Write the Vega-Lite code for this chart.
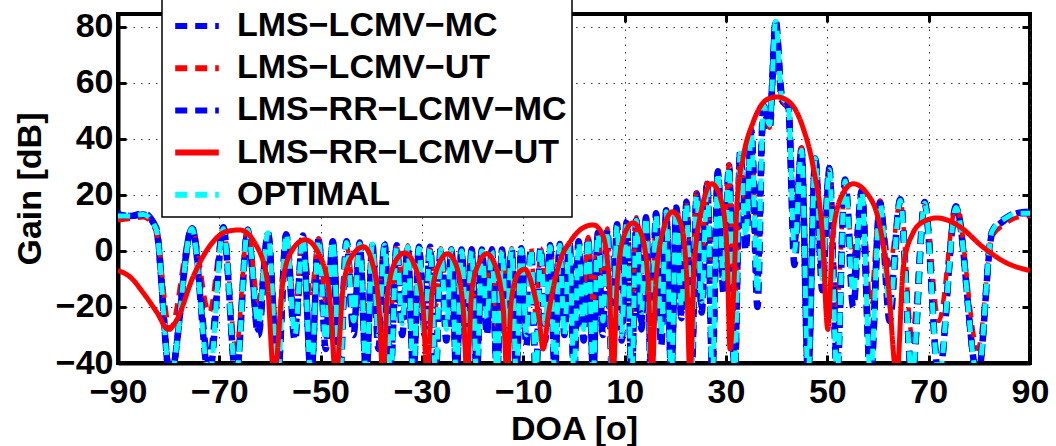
{
"$schema":"https://vega.github.io/schema/vega-lite/v6.json",
"width":912,"height":349,
"autosize":{"type":"none"},
"padding":{"left":118,"top":14,"right":26,"bottom":83},
"background":"white",
"view":{"stroke":"black","strokeWidth":4},
"config":{
"font":"Liberation Sans",
"axis":{"labelFont":"Liberation Sans","labelFontWeight":"bold","labelFontSize":34,"labelColor":"black","titleFont":"Liberation Sans","titleFontWeight":"bold","titleFontSize":34,"titleColor":"black","domainColor":"black","domainWidth":4,"tickColor":"black","tickWidth":3,"tickSize":-8,"gridColor":"#333333","gridDash":[1.5,6],"gridWidth":1,"gridOpacity":1},
"legend":{"orient":"none","legendX":44,"legendY":-18,"fillColor":"white","strokeColor":"black","strokeWidth":1.5,"padding":5,"labelFont":"Liberation Sans","labelFontWeight":"bold","labelFontSize":34,"labelColor":"black","labelOffset":15,"symbolOffset":5,"labelLimit":0,"symbolType":"stroke","symbolSize":1900,"symbolStrokeWidth":6,"rowPadding":0.2,"cornerRadius":0}
},
"datasets":{
"w":[
{"x":-90,"o":12.5,"a":13.5,"c":13,"b":11},
{"x":-87.5,"o":12.5,"a":12.5,"c":12.5,"b":11.5},
{"x":-85,"o":13,"a":13.5,"c":13,"b":12},
{"x":-82.5,"o":8,"a":8,"c":8.5,"b":7},
{"x":-79.7,"o":-45,"a":-45,"c":-45,"b":-28},
{"x":-75.4,"o":8,"a":8.5,"c":8,"b":8.5},
{"x":-72.0,"o":-45,"a":-45,"c":-40,"b":-22},
{"x":-69.2,"o":8,"a":8,"c":8.5,"b":8.5},
{"x":-66.7,"o":-45,"a":-45,"c":-45,"b":-35},
{"x":-64.4,"o":7.5,"a":7,"c":7.5,"b":8},
{"x":-62.3,"o":-26,"a":-30,"c":-28,"b":-18},
{"x":-60.4,"o":6.5,"a":6,"c":6.5,"b":6},
{"x":-58.5,"o":-45,"a":-45,"c":-45,"b":-30},
{"x":-56.8,"o":6,"a":6,"c":5.5,"b":6},
{"x":-55.1,"o":-30,"a":-32,"c":-28,"b":-20},
{"x":-53.5,"o":5,"a":5.5,"c":5,"b":4},
{"x":-51.9,"o":-45,"a":-45,"c":-45,"b":-15},
{"x":-50.4,"o":4,"a":4,"c":4.5,"b":4.5},
{"x":-49.0,"o":-32,"a":-35,"c":-30,"b":-18},
{"x":-47.6,"o":3.5,"a":3,"c":3.5,"b":3},
{"x":-46.2,"o":-45,"a":-45,"c":-40,"b":-25},
{"x":-44.9,"o":3,"a":3.5,"c":3,"b":2},
{"x":-43.5,"o":-25,"a":-28,"c":-30,"b":-12},
{"x":-42.3,"o":2.5,"a":3,"c":2.5,"b":3},
{"x":-41.0,"o":-45,"a":-45,"c":-45,"b":-30},
{"x":-39.8,"o":2.5,"a":2,"c":2.5,"b":2},
{"x":-38.6,"o":-30,"a":-28,"c":-35,"b":-15},
{"x":-37.4,"o":2,"a":2.5,"c":2,"b":2.5},
{"x":-36.2,"o":-45,"a":-40,"c":-45,"b":-22},
{"x":-35.0,"o":1.5,"a":1.5,"c":2,"b":1},
{"x":-33.9,"o":-26,"a":-30,"c":-24,"b":-10},
{"x":-32.8,"o":1.5,"a":1,"c":1.5,"b":2},
{"x":-31.7,"o":-45,"a":-45,"c":-45,"b":-28},
{"x":-30.6,"o":1,"a":1.5,"c":1,"b":1.5},
{"x":-29.5,"o":-32,"a":-28,"c":-30,"b":-16},
{"x":-28.4,"o":1,"a":1,"c":1.5,"b":0.5},
{"x":-27.3,"o":-45,"a":-45,"c":-42,"b":-20},
{"x":-26.3,"o":0.5,"a":1,"c":0.5,"b":1},
{"x":-25.2,"o":-28,"a":-32,"c":-26,"b":-12},
{"x":-24.2,"o":0.5,"a":0,"c":0.5,"b":1},
{"x":-23.2,"o":-45,"a":-45,"c":-45,"b":-25},
{"x":-22.2,"o":0,"a":0.5,"c":0,"b":-0.5},
{"x":-21.2,"o":-30,"a":-26,"c":-34,"b":-14},
{"x":-20.2,"o":0,"a":0,"c":0.5,"b":1},
{"x":-19.2,"o":-45,"a":-45,"c":-40,"b":-22},
{"x":-18.2,"o":0,"a":0.5,"c":0,"b":0},
{"x":-17.2,"o":-24,"a":-28,"c":-30,"b":-10},
{"x":-16.2,"o":0,"a":0,"c":0.5,"b":1},
{"x":-15.2,"o":-45,"a":-45,"c":-45,"b":-28},
{"x":-14.2,"o":0,"a":0.5,"c":0,"b":-0.5},
{"x":-13.3,"o":-28,"a":-30,"c":-25,"b":-14},
{"x":-12.3,"o":0.5,"a":0,"c":0.5,"b":1},
{"x":-11.4,"o":-45,"a":-40,"c":-45,"b":-20},
{"x":-10.4,"o":0.5,"a":1,"c":0.5,"b":0},
{"x":-9.4,"o":-30,"a":-34,"c":-28,"b":-12},
{"x":-8.5,"o":0.5,"a":0.5,"c":1,"b":1.5},
{"x":-7.5,"o":-45,"a":-45,"c":-45,"b":-24},
{"x":-6.6,"o":1,"a":1.5,"c":1,"b":1},
{"x":-5.7,"o":-26,"a":-28,"c":-32,"b":-10},
{"x":-4.7,"o":1.5,"a":1.5,"c":2,"b":2.5},
{"x":-3.8,"o":-45,"a":-45,"c":-40,"b":-22},
{"x":-2.8,"o":2,"a":2.5,"c":2,"b":1.5},
{"x":-1.9,"o":-30,"a":-25,"c":-30,"b":-12},
{"x":-0.9,"o":2.5,"a":3,"c":2.5,"b":3},
{"x":0,"o":-45,"a":-45,"c":-45,"b":-26},
{"x":0.9,"o":3,"a":3,"c":3.5,"b":3.5},
{"x":1.9,"o":-28,"a":-32,"c":-26,"b":-14},
{"x":2.8,"o":4.5,"a":4,"c":4.5,"b":5},
{"x":3.8,"o":-45,"a":-45,"c":-45,"b":-20},
{"x":4.7,"o":6,"a":6.5,"c":6,"b":6},
{"x":5.7,"o":-25,"a":-30,"c":-28,"b":-10},
{"x":6.6,"o":7,"a":7,"c":7.5,"b":8},
{"x":7.5,"o":-45,"a":-40,"c":-45,"b":-24},
{"x":8.5,"o":9,"a":9.5,"c":9,"b":9},
{"x":9.4,"o":-30,"a":-32,"c":-26,"b":-12},
{"x":10.4,"o":10.5,"a":10,"c":10.5,"b":11},
{"x":11.4,"o":-45,"a":-45,"c":-45,"b":-22},
{"x":12.3,"o":11,"a":11.5,"c":11,"b":12},
{"x":13.3,"o":-22,"a":-28,"c":-25,"b":-8},
{"x":14.2,"o":12,"a":12.5,"c":12,"b":13},
{"x":15.2,"o":-45,"a":-45,"c":-40,"b":-25},
{"x":16.2,"o":13,"a":13,"c":13.5,"b":13},
{"x":17.2,"o":-30,"a":-26,"c":-34,"b":-12},
{"x":18.2,"o":14,"a":14.5,"c":14,"b":15},
{"x":19.2,"o":-45,"a":-45,"c":-45,"b":-20},
{"x":20.2,"o":15,"a":15.5,"c":15,"b":16},
{"x":21.2,"o":-20,"a":-24,"c":-22,"b":-5},
{"x":22.2,"o":17,"a":17,"c":17.5,"b":18},
{"x":23.2,"o":-45,"a":-45,"c":-45,"b":-18},
{"x":24.2,"o":20,"a":20.5,"c":20,"b":21},
{"x":25.2,"o":-18,"a":-22,"c":-20,"b":-2},
{"x":26.3,"o":24,"a":24,"c":24.5,"b":25},
{"x":27.3,"o":-45,"a":-45,"c":-40,"b":-12},
{"x":28.4,"o":28,"a":28.5,"c":28,"b":27},
{"x":29.5,"o":-10,"a":-15,"c":-12,"b":0},
{"x":30.6,"o":30,"a":30.5,"c":30,"b":31},
{"x":31.7,"o":-45,"a":-45,"c":-45,"b":-20},
{"x":32.8,"o":35,"a":35,"c":35.5,"b":34},
{"x":33.9,"o":5,"a":0,"c":8,"b":15},
{"x":35.0,"o":42,"a":42,"c":43,"b":41},
{"x":36.2,"o":-15,"a":-20,"c":-10,"b":0},
{"x":37.4,"o":52,"a":52,"c":53,"b":51},
{"x":38.6,"o":45,"a":43,"c":46,"b":44},
{"x":39.8,"o":82,"a":81.5,"c":82.5,"b":80},
{"x":41.0,"o":55,"a":54,"c":56,"b":55},
{"x":42.3,"o":52,"a":51,"c":52,"b":50},
{"x":43.5,"o":0,"a":-5,"c":3,"b":10},
{"x":44.9,"o":36,"a":36.5,"c":36,"b":37},
{"x":46.2,"o":-45,"a":-45,"c":-45,"b":-25},
{"x":47.6,"o":33,"a":33.5,"c":33,"b":32},
{"x":49.0,"o":-10,"a":-14,"c":-8,"b":2},
{"x":50.4,"o":29,"a":29,"c":29.5,"b":30},
{"x":51.9,"o":-45,"a":-40,"c":-45,"b":-20},
{"x":53.5,"o":25,"a":25.5,"c":25,"b":24},
{"x":55.1,"o":-15,"a":-20,"c":-12,"b":-2},
{"x":56.8,"o":21,"a":21,"c":21.5,"b":22},
{"x":58.5,"o":-45,"a":-45,"c":-45,"b":-18},
{"x":60.4,"o":17,"a":17.5,"c":17,"b":18},
{"x":62.3,"o":-20,"a":-25,"c":-18,"b":-5},
{"x":64.4,"o":18,"a":18,"c":18.5,"b":18},
{"x":66.7,"o":-45,"a":-45,"c":-45,"b":-30},
{"x":69.2,"o":17,"a":17.5,"c":17,"b":17.5},
{"x":72.0,"o":-45,"a":-45,"c":-45,"b":-25},
{"x":75.4,"o":15.5,"a":16,"c":15.5,"b":16},
{"x":79.7,"o":-45,"a":-45,"c":-45,"b":-35},
{"x":82.5,"o":7,"a":6,"c":7,"b":5},
{"x":85,"o":11.5,"a":11,"c":11.5,"b":9.5},
{"x":87.5,"o":13.5,"a":13.5,"c":13.5,"b":12},
{"x":90,"o":13.5,"a":14,"c":13.5,"b":12.5}
],
"r":[
{"x":-90,"d":-7},{"x":-87.6,"d":-9.3},{"x":-85,"d":-15},{"x":-82.3,"d":-22},{"x":-80.1,"d":-28},{"x":-78.4,"d":-24.6},{"x":-75.2,"d":-9.3},{"x":-71.8,"d":2},{"x":-68.5,"d":7},{"x":-66,"d":7.5},{"x":-62.6,"d":1.6},{"x":-60.6,"d":-10},{"x":-59.2,"d":-45},{"x":-57.4,"d":-10},{"x":-55.7,"d":0},{"x":-53.1,"d":4},{"x":-50.1,"d":-2},{"x":-48.3,"d":-15},{"x":-47,"d":-45},{"x":-45.5,"d":-12},{"x":-43.5,"d":-1},{"x":-41.5,"d":1.5},{"x":-39.7,"d":-5},{"x":-38.5,"d":-20},{"x":-37.7,"d":-45},{"x":-36.8,"d":-15},{"x":-35,"d":-3},{"x":-33.4,"d":-0.7},{"x":-31.5,"d":-5},{"x":-29.8,"d":-20},{"x":-29,"d":-45},{"x":-28,"d":-15},{"x":-26.5,"d":-4},{"x":-25,"d":-1},{"x":-23.5,"d":-4},{"x":-21.9,"d":-20},{"x":-21.1,"d":-45},{"x":-20.2,"d":-15},{"x":-18.7,"d":-4},{"x":-17.2,"d":-1},{"x":-15.6,"d":-5},{"x":-14,"d":-20},{"x":-13.2,"d":-45},{"x":-12.4,"d":-18},{"x":-11,"d":-8},{"x":-9.7,"d":-6.5},{"x":-8.3,"d":-12},{"x":-6.9,"d":-24},{"x":-6.1,"d":-35},{"x":-5,"d":-22},{"x":-3,"d":-5},{"x":-0.5,"d":4},{"x":2,"d":8.5},{"x":3.8,"d":9.3},{"x":5.6,"d":6},{"x":6.9,"d":-10},{"x":7.7,"d":-45},{"x":8.5,"d":-12},{"x":9.8,"d":5},{"x":11.6,"d":10},{"x":13.3,"d":6},{"x":14.6,"d":-10},{"x":15.4,"d":-45},{"x":16.2,"d":-10},{"x":17.7,"d":8},{"x":19.5,"d":14},{"x":21.2,"d":9},{"x":22.2,"d":-8},{"x":22.9,"d":-45},{"x":23.7,"d":-6},{"x":25.2,"d":15},{"x":27.2,"d":24},{"x":29.2,"d":17},{"x":30.2,"d":0},{"x":30.8,"d":-35},{"x":31.5,"d":-15},{"x":32.2,"d":18},{"x":33.4,"d":33.6},{"x":35.3,"d":45.7},{"x":38,"d":54},{"x":40,"d":55},{"x":42.6,"d":53},{"x":45.2,"d":44},{"x":47.2,"d":30},{"x":49,"d":6.4},{"x":50.1,"d":-28},{"x":51.1,"d":6.4},{"x":53.1,"d":20.6},{"x":55.1,"d":24},{"x":57.8,"d":20.6},{"x":60.4,"d":8.6},{"x":62,"d":-11.6},{"x":63.7,"d":-45},{"x":65,"d":-5.7},{"x":66.9,"d":6.4},{"x":69,"d":10.5},{"x":71.6,"d":11.8},{"x":74,"d":10.8},{"x":76.2,"d":8.6},{"x":80.7,"d":1.4},{"x":85.4,"d":-4.3},{"x":90,"d":-7}
]
},
"layer":[
{"data":{"name":"w"},"transform":[{"fold":["a"],"as":["s","y"]}],
 "mark":{"type":"line","interpolate":"monotone","clip":true,"strokeWidth":6.5,"strokeDashOffset":10},
 "encoding":{
  "x":{"field":"x","type":"quantitative","scale":{"domain":[-90,90],"nice":false,"zero":false},"axis":{"orient":"bottom","values":[-90,-70,-50,-30,-10,10,30,50,70,90],"grid":true,"title":"DOA [o]","labelPadding":20,"titlePadding":3,"labelFlush":false}},
  "y":{"field":"y","type":"quantitative","scale":{"domain":[-40,84.6],"nice":false,"zero":false},"axis":{"orient":"left","values":[-40,-20,0,20,40,60,80],"grid":true,"title":"Gain [dB]","labelPadding":13,"titlePadding":8}},
  "color":{"field":"s","type":"nominal","scale":{"domain":["a","b","c","d","o"],"range":["#0000ff","#ff0000","#0000ff","#ff0000","#00ffff"]},"legend":{"title":null,"labelExpr":"{'a':'LMS−LCMV−MC','b':'LMS−LCMV−UT','c':'LMS−RR−LCMV−MC','d':'LMS−RR−LCMV−UT','o':'OPTIMAL'}[datum.label]"}},
  "strokeDash":{"field":"s","type":"nominal","scale":{"domain":["a","b","c","d","o"],"range":[[12,8],[12,8],[12,8],[1,0],[12,8]]}}
 }},
{"data":{"name":"w"},"transform":[{"fold":["b"],"as":["s","y"]}],
 "mark":{"type":"line","interpolate":"monotone","clip":true,"strokeWidth":4.5},
 "encoding":{
  "x":{"field":"x","type":"quantitative","axis":null},
  "y":{"field":"y","type":"quantitative","axis":null},
  "color":{"field":"s","type":"nominal"},
  "strokeDash":{"field":"s","type":"nominal"}
 }},
{"data":{"name":"w"},"transform":[{"fold":["c"],"as":["s","y"]}],
 "mark":{"type":"line","interpolate":"monotone","clip":true,"strokeWidth":6.5,"strokeDashOffset":4},
 "encoding":{
  "x":{"field":"x","type":"quantitative","axis":null},
  "y":{"field":"y","type":"quantitative","axis":null},
  "color":{"field":"s","type":"nominal"},
  "strokeDash":{"field":"s","type":"nominal"}
 }},
{"data":{"name":"w"},"transform":[{"fold":["o"],"as":["s","y"]}],
 "mark":{"type":"line","interpolate":"monotone","clip":true,"strokeWidth":5},
 "encoding":{
  "x":{"field":"x","type":"quantitative","axis":{"orient":"top","values":[-90,-70,-50,-30,-10,10,30,50,70,90],"labels":false,"title":null,"grid":false,"domain":false}},
  "y":{"field":"y","type":"quantitative","axis":{"orient":"right","values":[-40,-20,0,20,40,60,80],"labels":false,"title":null,"grid":false,"domain":false}},
  "color":{"field":"s","type":"nominal"},
  "strokeDash":{"field":"s","type":"nominal"}
 }},
{"data":{"name":"r"},"transform":[{"fold":["d"],"as":["s","y"]}],
 "mark":{"type":"line","interpolate":"monotone","clip":true,"strokeWidth":5},
 "encoding":{
  "x":{"field":"x","type":"quantitative","axis":null},
  "y":{"field":"y","type":"quantitative","axis":null},
  "color":{"field":"s","type":"nominal"},
  "strokeDash":{"field":"s","type":"nominal"}
 }}
],
"resolve":{"axis":{"x":"independent","y":"independent"}}
}
